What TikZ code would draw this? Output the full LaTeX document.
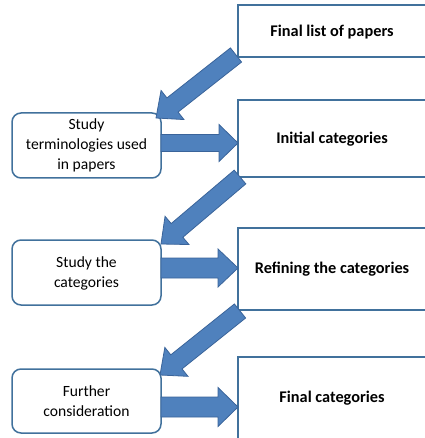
\documentclass[tikz,border=0pt]{standalone}
\usepackage{fontspec}
\setmainfont{Carlito}
\usetikzlibrary{calc}
\definecolor{boxline}{HTML}{41719C}
\definecolor{arrfill}{HTML}{4F81BD}
\definecolor{arrline}{HTML}{3A649A}
\tikzset{
  rbox/.style={draw=boxline, line width=2pt, fill=white},
  lbox/.style={draw=boxline, line width=1.5pt, fill=white, rounded corners=9pt},
  rtext/.style={font=\fontsize{16.3}{19}\selectfont\bfseries, anchor=center},
  ltext/.style={font=\fontsize{15.6}{20}\selectfont, align=center, anchor=center},
  fatarrow/.style={fill=arrfill, draw=arrline, line width=0.8pt, line join=miter}
}
% #1 start, #2 tip, #3 shaft half-width, #4 head half-width, #5 head length
\newcommand\myfatarrow[5]{%
  \coordinate (hb) at ($(#2)!#5!(#1)$);
  \draw[fatarrow] ($(#1)!#3!90:(#2)$) -- ($(hb)!#3!-90:(#1)$) -- ($(hb)!#4!-90:(#1)$) -- (#2)
     -- ($(hb)!#4!90:(#1)$) -- ($(hb)!#3!90:(#1)$) -- ($(#1)!#3!-90:(#2)$) -- cycle;
}
\begin{document}
\begin{tikzpicture}[x=1pt,y=-1pt]
\useasboundingbox (0,0) rectangle (424,438);
% right boxes
\path[rbox] (238,5) rectangle (430,57);
\path[rbox] (238,100) rectangle (430,177);
\path[rbox] (238,228) rectangle (430,310);
\path[rbox] (238,357) rectangle (430,445);
\node[rtext] (t1) at (332,32) {Final list of papers};
\node[rtext] (t2) at (332,139) {Initial categories};
\node[rtext] (t3) at (332,269) {Refining the categories};
\node[rtext] (t4) at (332,398) {Final categories};
% left boxes
\path[lbox] (12,113) rectangle (161,178);
\path[lbox] (12,240) rectangle (161,305);
\path[lbox] (12,369) rectangle (161,433);
\node[ltext] (l1) at (86.5,145) {Study\\terminologies used\\in papers};
\node[ltext] (l2) at (86.5,273) {Study the\\categories};
\node[ltext] (l3) at (86.5,401) {Further\\consideration};
% horizontal arrows
\coordinate (h1s) at (161,143); \coordinate (h1t) at (238,143);
\coordinate (h2s) at (161,268); \coordinate (h2t) at (238,268);
\coordinate (h3s) at (161,407); \coordinate (h3t) at (238,407);
\myfatarrow{h1s}{h1t}{8.5pt}{18.5pt}{19pt}
\myfatarrow{h2s}{h2t}{10pt}{19pt}{20pt}
\myfatarrow{h3s}{h3t}{10pt}{19.5pt}{20pt}
% diagonal arrows
\coordinate (d1s) at (236,55); \coordinate (d1t) at (156,118);
\coordinate (d2s) at (240,177); \coordinate (d2t) at (161,244);
\coordinate (d3s) at (240,311); \coordinate (d3t) at (160,375);
\myfatarrow{d1s}{d1t}{9pt}{18.5pt}{21pt}
\myfatarrow{d2s}{d2t}{9pt}{18.5pt}{21pt}
\myfatarrow{d3s}{d3t}{9pt}{18.5pt}{21pt}
\end{tikzpicture}
\end{document}
